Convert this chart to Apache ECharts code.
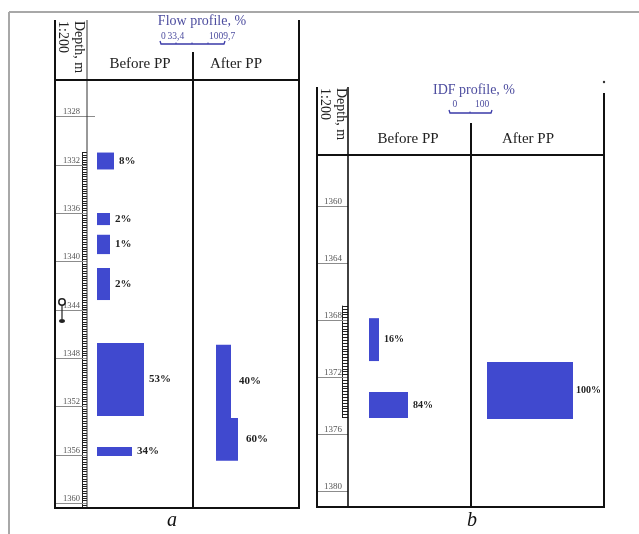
<!DOCTYPE html>
<html><head><meta charset="utf-8">
<script src="https://cdn.jsdelivr.net/npm/echarts@6/dist/echarts.min.js"></script>
<style>html,body{margin:0;padding:0;background:#fff}#c{width:639px;height:534px}</style>
</head><body><div id="c"></div>
<script>
// ---------- data ----------
const depthTicksA = [1328, 1332, 1336, 1340, 1344, 1348, 1352, 1356, 1360];
const depthTicksB = [1360, 1364, 1368, 1372, 1376, 1380];

const flowBeforeTop    = [1331.0, 1336.0, 1337.8, 1340.55, 1346.75, 1355.35];
const flowBeforeBottom = [1332.4, 1337.0, 1339.4, 1343.2, 1352.8, 1356.1];
const flowBeforeLength = [17, 13, 13, 13, 47, 35];
const flowBeforeLabels = ['8%', '2%', '1%', '2%', '53%', '34%'];

const flowAfterTop    = [1346.9, 1352.95];
const flowAfterBottom = [1352.95, 1356.5];
const flowAfterLength = [15, 22];
const flowAfterLabels = ['40%', '60%'];

const idfBeforeTop    = [1367.85, 1373.03];
const idfBeforeBottom = [1370.86, 1374.86];
const idfBeforeLength = [10, 39];
const idfBeforeLabels = ['16%', '84%'];

const idfAfterTop    = [1370.93];
const idfAfterBottom = [1374.93];
const idfAfterLength = [86];
const idfAfterLabels = ['100%'];

const rulerRangeA = [1331, 1360.4];
const rulerRangeB = [1367, 1374.8];

const flowScaleLabels = ['0', '33,4', '1009,7'];
const idfScaleLabels = ['0', '100'];

// ---------- layout ----------
const A = {top: 80, bottom: 508, min: 1325, max: 1360.4};
const B = {top: 155, bottom: 507, min: 1356.4, max: 1381.1};
const sA = (A.bottom - A.top) / (A.max - A.min);
const sB = (B.bottom - B.top) / (B.max - B.min);
const SERIF = '"Liberation Serif", "DejaVu Serif", serif';
const BAR = '#4049cf';

function zip(t, b, l) { return t.map((v, i) => [v, b[i], l[i]]); }

const grids = [
  {left: 55, top: A.top, width: 32, height: A.bottom - A.top},   // 0 a depth
  {left: 87, top: A.top, width: 106, height: A.bottom - A.top},  // 1 a before
  {left: 193, top: A.top, width: 107, height: A.bottom - A.top}, // 2 a after
  {left: 82, top: A.top + (rulerRangeA[0] - A.min) * sA, width: 5,
   height: (rulerRangeA[1] - rulerRangeA[0]) * sA},              // 3 a ruler
  {left: 317, top: B.top, width: 31, height: B.bottom - B.top},  // 4 b depth
  {left: 348, top: B.top, width: 123, height: B.bottom - B.top}, // 5 b before
  {left: 471, top: B.top, width: 133, height: B.bottom - B.top}, // 6 b after
  {left: 342, top: B.top + (rulerRangeB[0] - B.min) * sB, width: 6,
   height: (rulerRangeB[1] - rulerRangeB[0]) * sB}               // 7 b ruler
];
const xRanges = [[0, 1], [-10, 96], [-23, 84], [0, 1], [0, 1], [-21, 102], [-16, 117], [0, 1]];
const yRanges = [[A.min, A.max], [A.min, A.max], [A.min, A.max], rulerRangeA,
                 [B.min, B.max], [B.min, B.max], [B.min, B.max], rulerRangeB];

const xAxis = xRanges.map((r, i) => ({type: 'value', gridIndex: i, min: r[0], max: r[1], show: false}));
const yAxis = yRanges.map((r, i) => {
  const isRuler = (i === 3 || i === 7);
  return {
    type: 'value', gridIndex: i, min: r[0], max: r[1], inverse: true, show: isRuler,
    interval: isRuler ? 0.2 : undefined, position: 'left',
    axisLine: {show: true, lineStyle: {color: '#222', width: 1}},
    axisTick: {show: true, inside: true, length: isRuler ? (i === 3 ? 5 : 6) : 0, lineStyle: {color: '#222', width: 1}},
    axisLabel: {show: false}, splitLine: {show: false}
  };
});

function depthRender(rulerStart, extend, fontSize, lx) {
  return function (params, api) {
    const d = api.value(1);
    const y = Math.round(api.coord([0, d])[1]) + 0.5;
    const cs = params.coordSys;
    let x2 = cs.x + cs.width;
    if (d < rulerStart) x2 += extend;
    return {type: 'group', children: [
      {type: 'line', shape: {x1: cs.x, y1: y, x2: x2, y2: y}, style: {stroke: '#8c8c8c', lineWidth: 1}},
      {type: 'text', style: {text: String(d), x: cs.x + lx, y: y, textAlign: 'left', textVerticalAlign: 'bottom',
        font: fontSize + 'px ' + SERIF, fill: '#555'}}
    ]};
  };
}

function barRender(labels, fontSize, gap) {
  return function (params, api) {
    const p0 = api.coord([0, api.value(0)]);
    const p1 = api.coord([api.value(2), api.value(1)]);
    return {type: 'group', children: [
      {type: 'rect', shape: {x: p0[0], y: p0[1], width: p1[0] - p0[0], height: p1[1] - p0[1]}, style: {fill: BAR}},
      {type: 'text', style: {text: labels[params.dataIndex], x: p1[0] + gap, y: (p0[1] + p1[1]) / 2,
        textAlign: 'left', textVerticalAlign: 'middle', font: 'bold ' + fontSize + 'px ' + SERIF, fill: '#222'}}
    ]};
  };
}

const series = [
  {type: 'custom', xAxisIndex: 0, yAxisIndex: 0, data: depthTicksA.map(d => [0, d]),
   renderItem: depthRender(rulerRangeA[0], 8, 8.5, 8), encode: {x: 0, y: 1}, z: 1},
  {type: 'custom', xAxisIndex: 4, yAxisIndex: 4, data: depthTicksB.map(d => [0, d]),
   renderItem: depthRender(rulerRangeB[0], 0, 9, 7), encode: {x: 0, y: 1}, z: 1},
  {type: 'custom', xAxisIndex: 1, yAxisIndex: 1, data: zip(flowBeforeTop, flowBeforeBottom, flowBeforeLength),
   renderItem: barRender(flowBeforeLabels, 11, 5), encode: {x: 2, y: [0, 1]}},
  {type: 'custom', xAxisIndex: 2, yAxisIndex: 2, data: zip(flowAfterTop, flowAfterBottom, flowAfterLength),
   renderItem: barRender(flowAfterLabels, 11, 8), encode: {x: 2, y: [0, 1]}},
  {type: 'custom', xAxisIndex: 5, yAxisIndex: 5, data: zip(idfBeforeTop, idfBeforeBottom, idfBeforeLength),
   renderItem: barRender(idfBeforeLabels, 10, 5), encode: {x: 2, y: [0, 1]}},
  {type: 'custom', xAxisIndex: 6, yAxisIndex: 6, data: zip(idfAfterTop, idfAfterBottom, idfAfterLength),
   renderItem: barRender(idfAfterLabels, 10, 3), encode: {x: 2, y: [0, 1]}}
];

// ---------- decorations ----------
function L(x1, y1, x2, y2, w, c) {
  return {type: 'line', shape: {x1, y1, x2, y2}, style: {stroke: c || '#111', lineWidth: w || 2}, z: 10};
}
function T(text, x, y, font, fill, align) {
  return {type: 'text', x: x, y: y, z: 10,
    style: {text: text, font: font, fill: fill || '#222', textAlign: align || 'center', textVerticalAlign: 'middle'}};
}
function rotT(text, x, y) {
  return {type: 'text', x: x, y: y, rotation: -Math.PI / 2, z: 10,
    style: {text: text, font: '14px ' + SERIF, fill: '#222', textAlign: 'left', textVerticalAlign: 'middle'}};
}
const BLUE = '#4d4d9f';
const graphic = [
  // outer frame
  L(9, 12, 639, 12, 2, '#a8a8a8'), L(9, 12, 9, 534, 2, '#a8a8a8'),
  // panel a
  L(55, 20, 55, 509, 2), L(87, 20, 87, 508, 1, '#333'), L(193, 52, 193, 508, 2), L(299, 20, 299, 509, 2),
  L(54, 80, 300, 80, 2), L(54, 508, 300, 508, 2),
  // panel b
  L(317, 87, 317, 508, 2), L(348, 87, 348, 508, 1.6), L(471, 123, 471, 508, 2), L(604, 93, 604, 508, 2),
  L(316, 155, 605, 155, 2), L(316, 507, 605, 507, 2),
  {type: 'circle', shape: {cx: 604, cy: 82, r: 1.2}, style: {fill: '#333'}, z: 10},
  // headers a
  T('Flow profile, %', 202, 21, '14px ' + SERIF, BLUE),
  T(flowScaleLabels[0], 161, 36, '9.5px ' + SERIF, BLUE, 'left'),
  T(flowScaleLabels[1], 167.5, 36, '9.5px ' + SERIF, BLUE, 'left'),
  T(flowScaleLabels[2], 209, 36, '9.5px ' + SERIF, BLUE, 'left'),
  {type: 'polyline', shape: {points: [[160, 41], [161, 44], [224, 44], [225, 41]]}, style: {stroke: '#3a3aa8', lineWidth: 1.3, fill: null}, z: 10},
  L(176, 44, 176, 42.5, 1, '#3a3aa8'), L(192, 44, 192, 42.5, 1, '#3a3aa8'), L(208, 44, 208, 42.5, 1, '#3a3aa8'),
  T('Before PP', 140, 64, '15px ' + SERIF, '#222'),
  T('After PP', 236, 64, '15px ' + SERIF, '#222'),
  rotT('Depth, m', 79, 21), rotT('1:200', 63, 21),
  // headers b
  T('IDF profile, %', 474, 90, '14px ' + SERIF, BLUE),
  T(idfScaleLabels[0], 452.5, 104, '9.5px ' + SERIF, BLUE, 'left'),
  T(idfScaleLabels[1], 475, 104, '9.5px ' + SERIF, BLUE, 'left'),
  {type: 'polyline', shape: {points: [[449, 110], [450, 113], [491, 113], [492, 110]]}, style: {stroke: '#3a3aa8', lineWidth: 1.3, fill: null}, z: 10},
  L(470, 113, 470, 111.5, 1, '#3a3aa8'),
  T('Before PP', 408, 139, '15px ' + SERIF, '#222'),
  T('After PP', 528, 139, '15px ' + SERIF, '#222'),
  rotT('Depth, m', 341, 88), rotT('1:200', 325, 88),
  // perforation symbol
  {type: 'circle', shape: {cx: 62, cy: 302, r: 3.2}, style: {stroke: '#222', lineWidth: 1.5, fill: '#fff'}, z: 10},
  L(62, 305, 62, 319, 1.2, '#222'),
  {type: 'ellipse', shape: {cx: 62, cy: 321, rx: 3, ry: 2}, style: {fill: '#222'}, z: 10},
  // captions
  T('a', 172, 521, 'italic 20px ' + SERIF, '#111'),
  T('b', 472, 521, 'italic 20px ' + SERIF, '#111')
];

const chart = echarts.init(document.getElementById('c'), null, {renderer: 'canvas'});
chart.setOption({
  animation: false,
  backgroundColor: '#fff',
  grid: grids.map(g => Object.assign({containLabel: false}, g)),
  xAxis: xAxis, yAxis: yAxis, series: series, graphic: graphic
});
</script>
</body></html>
